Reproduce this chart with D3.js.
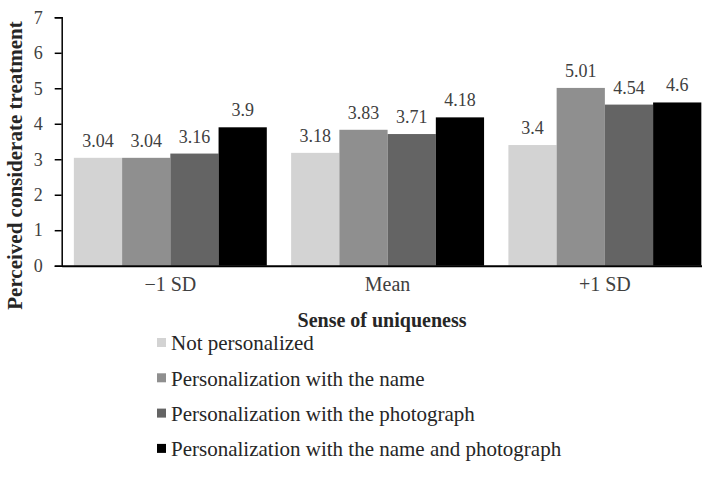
<!DOCTYPE html>
<html>
<head>
<meta charset="utf-8">
<script src="https://cdn.jsdelivr.net/npm/d3@7"></script>
<style>
  html, body { margin: 0; padding: 0; background: #fff; }
  svg { display: block; font-family: "Liberation Serif", "Times New Roman", serif; }
  svg text { font-family: "Liberation Serif", "Times New Roman", serif; }
</style>
</head>
<body>
<svg id="chart" width="702" height="485"></svg>
<script>
// Groups along the x axis (sense of uniqueness levels)
const categories = ["\u22121 SD", "Mean", "+1 SD"];

// Personalization conditions, one series each
const seriesNames = [
  "Not personalized",
  "Personalization with the name",
  "Personalization with the photograph",
  "Personalization with the name and photograph"
];
const seriesColors = ["#d3d3d3", "#8f8f8f", "#646464", "#000000"];

// Mean perceived considerate treatment per series, in category order
const notPersonalized = [3.04, 3.18, 3.4];
const withName = [3.04, 3.83, 5.01];
const withPhoto = [3.16, 3.71, 4.54];
const withNameAndPhoto = [3.9, 4.18, 4.6];
const seriesValues = [notPersonalized, withName, withPhoto, withNameAndPhoto];

const yTicks = [0, 1, 2, 3, 4, 5, 6, 7];

const svg = d3.select("#chart");

const y = d3.scaleLinear().domain([0, 7]).range([265.7, 17.3]);
const x0 = d3.scaleBand().domain(categories).range([61.7, 713.5])
  .paddingInner(0.112).paddingOuter(0.056);
const x1 = d3.scaleBand().domain(d3.range(seriesNames.length)).range([0, x0.bandwidth()]);

// Bars
const groups = svg.append("g").selectAll("g")
  .data(categories)
  .join("g")
  .attr("transform", d => `translate(${x0(d)},0)`);

groups.selectAll("rect")
  .data((c, ci) => seriesValues.map((vals, si) => ({ si, v: vals[ci] })))
  .join("rect")
  .attr("x", d => x1(d.si))
  .attr("width", x1.bandwidth())
  .attr("y", d => y(d.v))
  .attr("height", d => y(0) - y(d.v))
  .attr("fill", d => seriesColors[d.si]);

// Value labels above each bar
groups.selectAll("text")
  .data((c, ci) => seriesValues.map((vals, si) => ({ si, v: vals[ci] })))
  .join("text")
  .attr("x", d => x1(d.si) + x1.bandwidth() / 2)
  .attr("y", d => y(d.v) - 11)
  .attr("text-anchor", "middle")
  .attr("font-size", 18)
  .attr("fill", "#404040")
  .text(d => String(d.v));

// Y axis
const yAxis = svg.append("g")
  .attr("transform", "translate(61.7,0)")
  .call(d3.axisLeft(y).tickValues(yTicks).tickSize(7).tickPadding(12).tickFormat(d3.format("d")));
yAxis.attr("font-family", null);
yAxis.select(".domain").attr("stroke", "#000").attr("stroke-width", 1.5);
yAxis.selectAll(".tick line").attr("stroke", "#000").attr("stroke-width", 1.5);
yAxis.selectAll(".tick text")
  .attr("font-size", 18)
  .attr("fill", "#404040");

// X axis: baseline plus category labels
const xAxis = svg.append("g")
  .attr("transform", `translate(0,${y(0)})`)
  .call(d3.axisBottom(x0).tickSize(0).tickPadding(11));
xAxis.attr("font-family", null);
xAxis.select(".domain").attr("stroke", "#000").attr("stroke-width", 2);
xAxis.selectAll(".tick text")
  .attr("font-size", 20)
  .attr("fill", "#404040");

// Axis titles
svg.append("text")
  .attr("x", 382)
  .attr("y", 327)
  .attr("text-anchor", "middle")
  .attr("font-size", 20)
  .attr("font-weight", "bold")
  .attr("fill", "#262626")
  .text("Sense of uniqueness");

svg.append("text")
  .attr("transform", "translate(22,165.5) rotate(-90)")
  .attr("text-anchor", "middle")
  .attr("font-size", 21)
  .attr("font-weight", "bold")
  .attr("fill", "#262626")
  .text("Perceived considerate treatment");

// Legend
const legend = svg.append("g").attr("transform", "translate(157,343)");
const items = legend.selectAll("g")
  .data(seriesNames)
  .join("g")
  .attr("transform", (d, i) => `translate(0,${i * 35.3})`);
items.append("rect")
  .attr("x", 0).attr("y", -5)
  .attr("width", 9).attr("height", 9)
  .attr("fill", (d, i) => seriesColors[i]);
items.append("text")
  .attr("x", 14)
  .attr("y", 0)
  .attr("dy", "0.35em")
  .attr("font-size", 21)
  .attr("fill", "#262626")
  .text(d => d);
</script>
</body>
</html>
